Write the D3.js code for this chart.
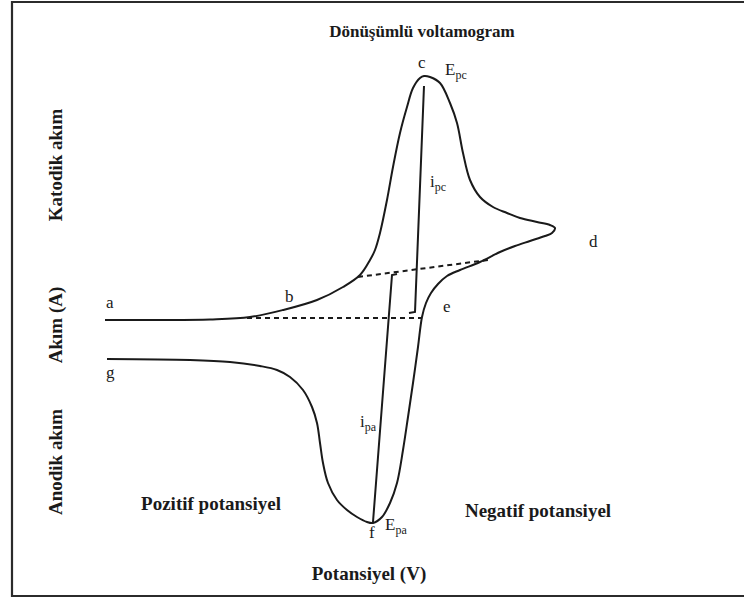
<!DOCTYPE html>
<html>
<head>
<meta charset="utf-8">
<script src="https://cdn.jsdelivr.net/npm/d3@7"></script>
<style>
  body { margin: 0; background: #fff; }
  svg { display: block; }
</style>
</head>
<body>
<svg id="chart" width="744" height="600"></svg>
<script>
// Cyclic voltammogram sketch.
// Potential axis: arbitrary units 0..100, positive potential on the left.
// Current axis: cathodic current positive (up), anodic current negative (down).

// forward (cathodic) sweep: a -> b -> c (peak) -> d (switching point)
const cathodicSweep = [
  [0, 0], [11, 0], [21, 0.3], [29, 1.5], [35.6, 5], [42.4, 10], [47.6, 16.5],
  [51, 22.5], [53, 30], [54, 35], [55, 43.5], [56.4, 60], [57.6, 76.5],
  [59, 93.5], [60.4, 106.5], [61.6, 116], [63, 121], [63.8, 122], [65, 121.5],
  [67, 118.5], [69, 108.5], [70.4, 98.5], [71.6, 83.5], [73, 70], [75, 61.5],
  [77.6, 56.5], [80.4, 53.5], [83, 51], [86.4, 49], [89, 47.5], [90, 46]
];

// reverse (anodic) sweep: d -> e -> f (peak) -> g
const anodicSweep = [
  [89.4, 43.5], [88, 42], [85, 39.5], [82, 37], [79, 34], [75, 29], [71, 25],
  [68.4, 22], [66.6, 18], [65.2, 13.5], [64.2, 8.5], [63.4, 1.5], [62.6, -13.5],
  [61.6, -31.5], [60.6, -48.5], [59.6, -65], [58.4, -81.5], [57, -91.5],
  [55.4, -98.5], [53.6, -101.5], [52.4, -101], [50.4, -98.5], [48.4, -95],
  [46.4, -90], [44.6, -81.5], [43.6, -71.5], [43, -61.5], [42.4, -51.5],
  [41.4, -43.5], [39.6, -35], [37, -28.5], [34.4, -25], [31, -23], [25, -21],
  [17, -20], [0.4, -19.5]
];

// extrapolated baselines (dashed)
const baselineCathodic = [[28.4, 1], [63.4, 1]];
const baselineAnodic = [[50.6, 21.5], [76.6, 30]];

// peak current markers
const peakCathodicLine = [[63.8, 117], [62, 4], [60.8, 3.5]];
const peakAnodicLine = [[53.6, -101], [57.4, 22.5], [58.4, 23]];

// point labels: text, optional subscript, anchor (potential, current)
const pointLabels = [
  { text: "a", sub: "", E: 0.2, I: 6 },
  { text: "b", sub: "", E: 36, I: 9 },
  { text: "c", sub: "", E: 62.6, I: 126 },
  { text: "E", sub: "pc", E: 68, I: 122.5 },
  { text: "i", sub: "pc", E: 65, I: 66.5 },
  { text: "d", sub: "", E: 96.8, I: 36.5 },
  { text: "e", sub: "", E: 67.6, I: 4 },
  { text: "f", sub: "", E: 52.8, I: -109 },
  { text: "E", sub: "pa", E: 56, I: -105 },
  { text: "i", sub: "pa", E: 51, I: -53.5 },
  { text: "g", sub: "", E: 0.2, I: -29 }
];

const chartTitle = "Dönüşümlü voltamogram";
const xTitle = "Potansiyel (V)";
const regionLabels = ["Pozitif potansiyel", "Negatif potansiyel"];
const yTitles = ["Katodik akım", "Akım (A)", "Anodik akım"];

const svg = d3.select("#chart");
const x = d3.scaleLinear().domain([0, 100]).range([105, 605]);
const y = d3.scaleLinear().domain([-120, 130]).range([560, 60]);

const serif = "'Liberation Serif', 'DejaVu Serif', 'Times New Roman', serif";
const ink = "#1a1a1a";

// frame
svg.append("path")
  .attr("d", "M744,2 H12 V596 H744")
  .attr("fill", "none")
  .attr("stroke", "#2b2b2b")
  .attr("stroke-width", 2.2);

const line = d3.line()
  .x(d => x(d[0]))
  .y(d => y(d[1]))
  .curve(d3.curveCatmullRom.alpha(0.5));

const straight = d3.line().x(d => x(d[0])).y(d => y(d[1]));

// voltammogram loop
svg.append("path")
  .attr("d", line(cathodicSweep.concat(anodicSweep)))
  .attr("fill", "none")
  .attr("stroke", ink)
  .attr("stroke-width", 2)
  .attr("stroke-linejoin", "round");

// dashed baselines
[baselineCathodic, baselineAnodic].forEach(seg => {
  svg.append("path")
    .attr("d", straight(seg))
    .attr("fill", "none")
    .attr("stroke", ink)
    .attr("stroke-width", 2)
    .attr("stroke-dasharray", "5,4");
});

// peak current lines
[peakCathodicLine, peakAnodicLine].forEach(seg => {
  svg.append("path")
    .attr("d", straight(seg))
    .attr("fill", "none")
    .attr("stroke", ink)
    .attr("stroke-width", 2)
    .attr("stroke-linejoin", "miter");
});

// point labels
pointLabels.forEach(l => {
  const t = svg.append("text")
    .attr("x", x(l.E))
    .attr("y", y(l.I))
    .attr("font-family", serif)
    .attr("font-size", 17)
    .attr("fill", ink)
    .text(l.text);
  if (l.sub) {
    t.append("tspan")
      .attr("dy", 4)
      .attr("font-size", 12)
      .text(l.sub);
  }
});

// titles
svg.append("text")
  .attr("x", 422).attr("y", 37)
  .attr("text-anchor", "middle")
  .attr("font-family", serif).attr("font-weight", "bold")
  .attr("font-size", 17)
  .attr("fill", ink)
  .text(chartTitle);

svg.append("text")
  .attr("x", 369).attr("y", 580)
  .attr("text-anchor", "middle")
  .attr("font-family", serif).attr("font-weight", "bold")
  .attr("font-size", 19)
  .attr("fill", ink)
  .text(xTitle);

svg.append("text")
  .attr("x", 211).attr("y", 510)
  .attr("text-anchor", "middle")
  .attr("font-family", serif).attr("font-weight", "bold")
  .attr("font-size", 19)
  .attr("fill", ink)
  .text(regionLabels[0]);

svg.append("text")
  .attr("x", 538).attr("y", 517)
  .attr("text-anchor", "middle")
  .attr("font-family", serif).attr("font-weight", "bold")
  .attr("font-size", 19)
  .attr("fill", ink)
  .text(regionLabels[1]);

// vertical axis labels (rotated)
const yTitleCenters = [165, 325, 462];
yTitles.forEach((txt, i) => {
  svg.append("text")
    .attr("transform", `translate(62,${yTitleCenters[i]}) rotate(-90)`)
    .attr("text-anchor", "middle")
    .attr("font-family", serif).attr("font-weight", "bold")
    .attr("font-size", 19)
    .attr("fill", ink)
    .text(txt);
});
</script>
</body>
</html>
